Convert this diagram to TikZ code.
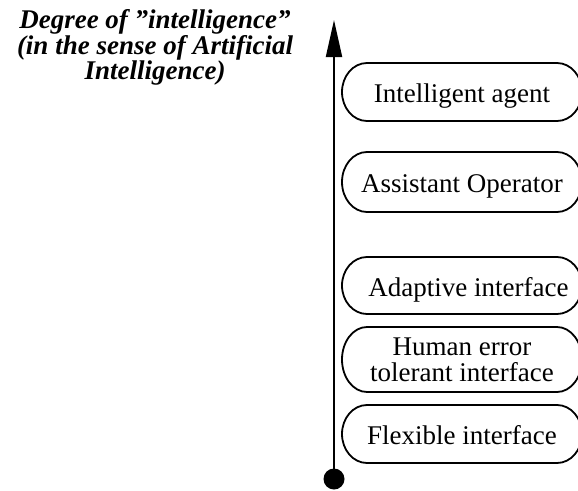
\documentclass[tikz,border=0pt]{standalone}
\usepackage{fontspec}
\setmainfont{Liberation Serif}
\usetikzlibrary{arrows.meta}
\newcommand{\pillframe}[2]{%
  \draw[boxline] ([xshift=25pt]#1.north west) -- ([xshift=-25pt]#1.north east)
    arc[start angle=-90, end angle=90, x radius=25, y radius=#2]
    -- ([xshift=25pt]#1.south west)
    arc[start angle=90, end angle=270, x radius=25, y radius=#2] -- cycle;}
\begin{document}
\begin{tikzpicture}[x=1pt,y=-1pt,
  boxline/.style={line width=1.8pt},
  stadium/.style={minimum width=240pt, anchor=west, inner sep=0pt, outer sep=0pt, font=\fontsize{27}{26}\selectfont},
  oneline/.style={text height=24pt, text depth=3pt},
  axisline/.style={line width=2pt, -{Triangle[length=37pt,width=16pt]}},
  titletext/.style={font=\bfseries\itshape\fontsize{27}{22}\selectfont, align=center, inner sep=0pt}]
\useasboundingbox (0,0) rectangle (578,490);
\clip (0,0) rectangle (578,490);
\node[titletext, anchor=north] (title) at (155,9.3) {Degree of \symbol{34}intelligence\symbol{34}\\(in the sense of Artificial\\Intelligence)};
\node[stadium, oneline, minimum height=58pt] (ia) at (342,92) {Intelligent agent\hspace{13pt}};
\node[stadium, oneline, minimum height=60pt] (ao) at (342,182) {Assistant Operator};
\node[stadium, oneline, minimum height=57pt] (ad) at (342,285.5) {\hspace{13pt}Adaptive interface};
\node[stadium, align=center, minimum height=65pt] (he) at (342,359.5) {Human error\\tolerant interface};
\node[stadium, oneline, minimum height=58pt] (fl) at (342,434) {Flexible interface};
\pillframe{ia}{29}
\pillframe{ao}{30}
\pillframe{ad}{28.5}
\pillframe{he}{32.5}
\pillframe{fl}{29}
\node[circle, fill, minimum size=21pt, inner sep=0pt] (dot) at (334,479) {};
\coordinate (tip) at (334,20);
\draw[axisline] (dot.center) -- (tip);
\end{tikzpicture}
\end{document}
